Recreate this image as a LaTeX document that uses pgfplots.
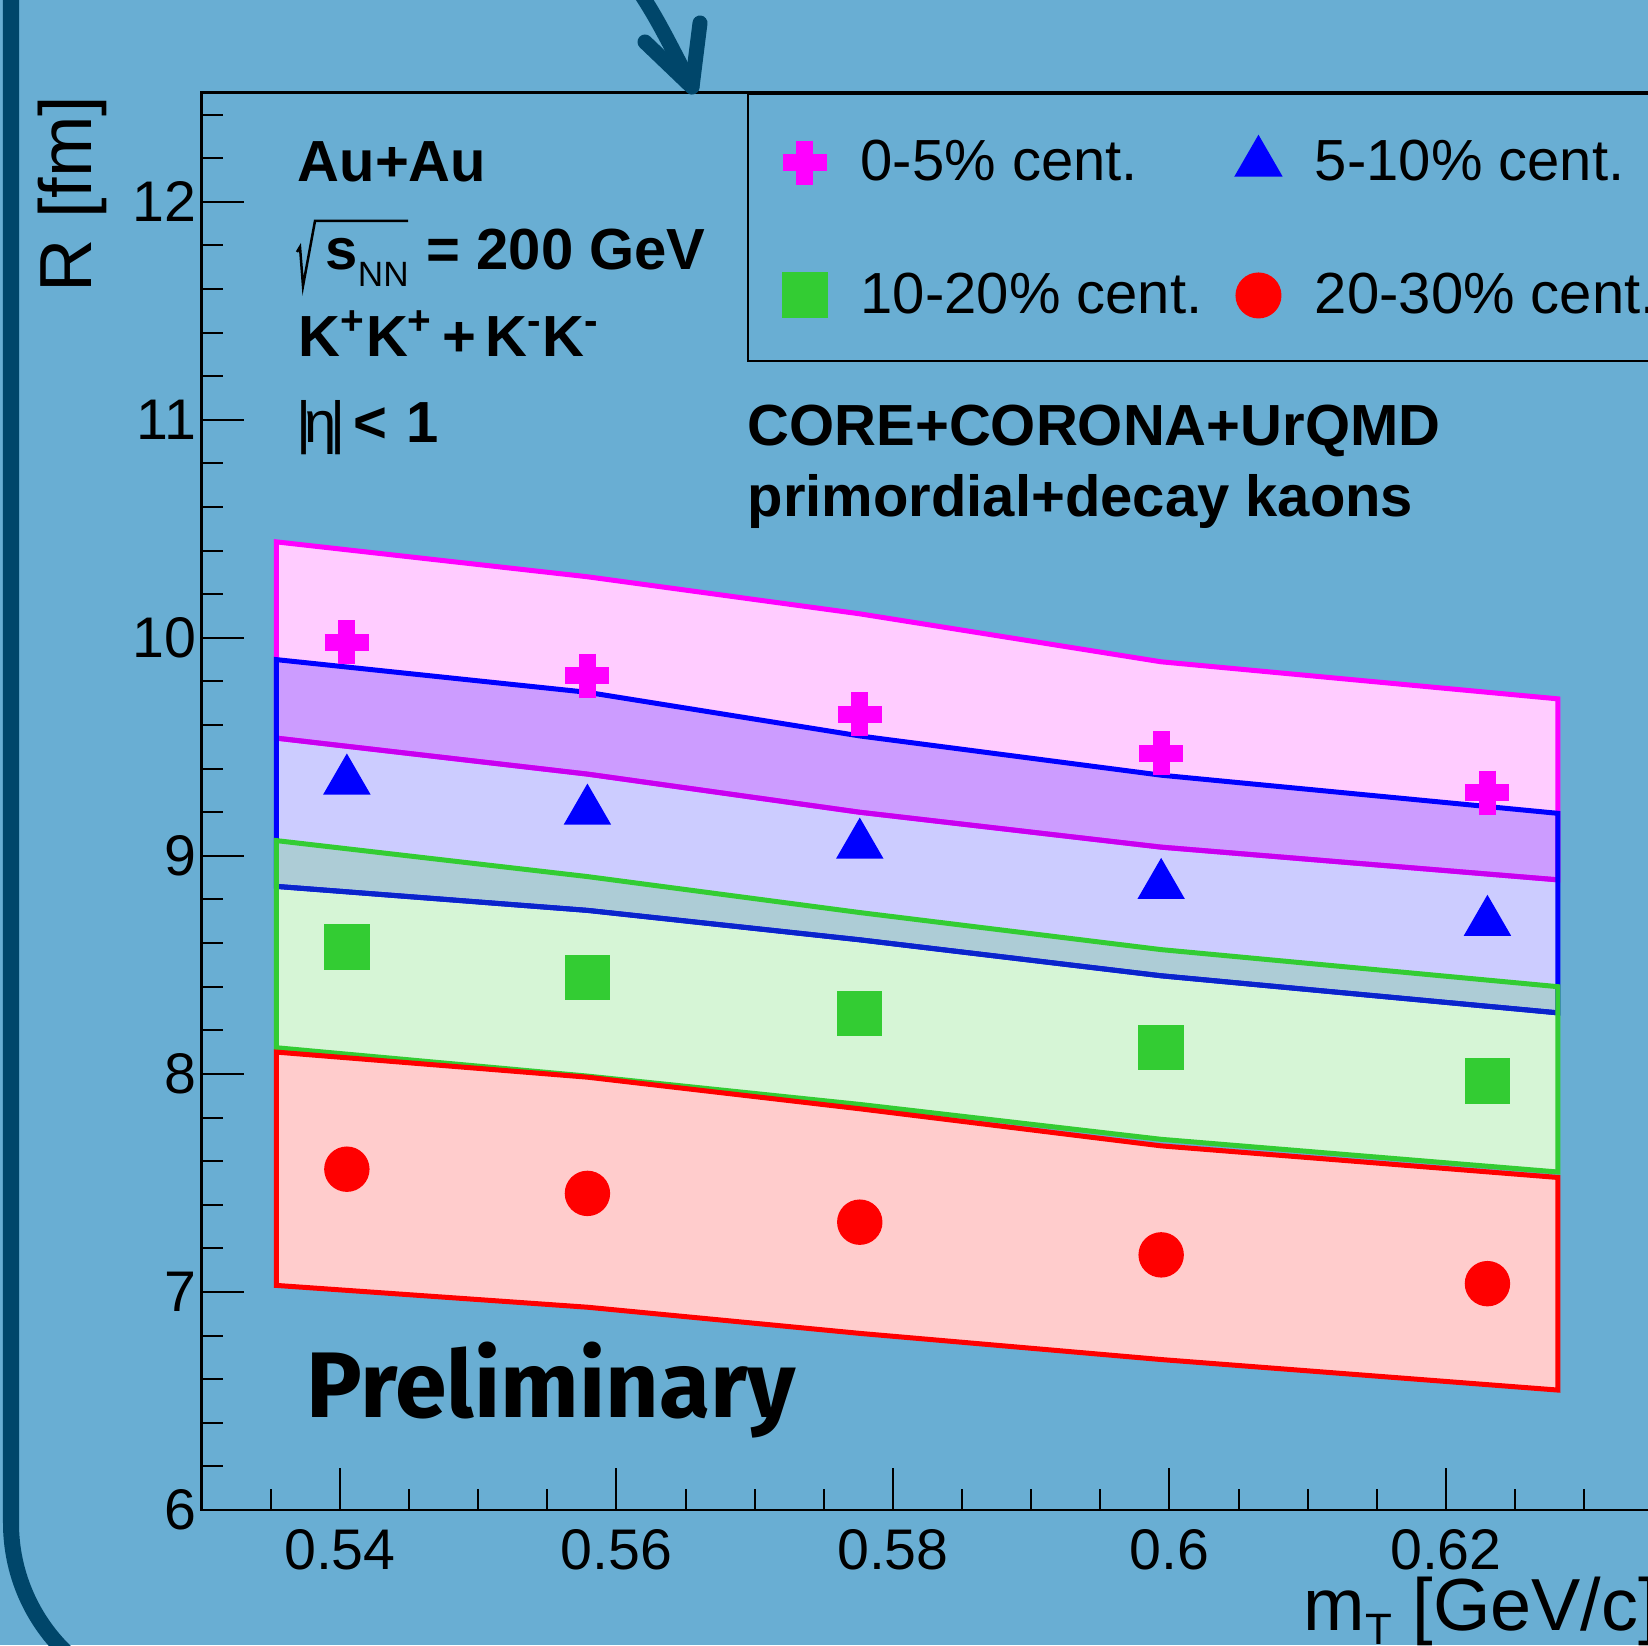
\documentclass[border=0pt]{standalone}
\usepackage{amsmath}
\usepackage{fontspec}
\setmainfont{Liberation Sans}
\newfontfamily\prelimfont{Fira Sans}
\usepackage{pgfplots}
\pgfplotsset{compat=1.18}
\usepackage{pgfplotstable}
\newcommand\fs[1]{\fontsize{#1}{#1}\selectfont}
\definecolor{bg}{HTML}{69AED3}
\definecolor{navy}{HTML}{00466A}
\definecolor{pinkfill}{HTML}{FFCCFF}
\definecolor{purplefill}{HTML}{CC9CFF}
\definecolor{lavfill}{HTML}{CCCCFF}
\definecolor{tealfill}{HTML}{ADCCD6}
\definecolor{greenfill}{HTML}{D6F5D6}
\definecolor{redfill}{HTML}{FFCCCC}
\definecolor{magline}{HTML}{FF00FF}
\definecolor{violetline}{HTML}{C800F0}
\definecolor{blueline}{HTML}{0000FF}
\definecolor{bluedark}{HTML}{0A24CC}
\definecolor{greenline}{HTML}{33CC33}
\definecolor{redline}{HTML}{FF0000}

\pgfplotstableread{
x      pu    pl    bu    bl    gu    gl   ru    rl
0.5354 10.44 9.54  9.90  8.86  9.07  8.12 8.10  7.03
0.5579 10.28 9.375 9.75  8.75  8.905 7.99 7.985 6.93
0.5776 10.11 9.20  9.55  8.615 8.74  7.86 7.84  6.81
0.5994 9.89  9.04  9.37  8.45  8.57  7.70 7.67  6.69
0.6281 9.72  8.89  9.195 8.28  8.40  7.55 7.525 6.55
}\bands

\pgfplotstableread{
x      cross tri   sq    circ
0.5405 9.98  9.344 8.582 7.563
0.5579 9.825 9.206 8.443 7.452
0.5776 9.65  9.05  8.277 7.32
0.5994 9.47  8.865 8.12  7.17
0.6230 9.29  8.696 7.968 7.038
}\markers

\begin{document}
\begin{tikzpicture}
\path[use as bounding box] (0,0) rectangle (16.48,16.45);
\clip (0,0) rectangle (16.48,16.45);
\fill[bg] (0,0) rectangle (16.48,16.45);
\begin{axis}[
  at={(2.017cm,1.35cm)}, anchor=south west,
  scale only axis, width=15.2075cm, height=14.173cm,
  xmin=0.53, xmax=0.64, ymin=6, ymax=12.5,
  axis line style={black, line width=0.025cm},
  tick pos=left, tick align=inside,
  xtick={0.54,0.56,0.58,0.6,0.62},
  xticklabels={0.54,0.56,0.58,0.6,0.62},
  minor xtick={0.535,0.545,0.55,0.555,0.565,0.57,0.575,0.585,0.59,0.595,0.605,0.61,0.615,0.625,0.63,0.635},
  ytick={6,7,8,9,10,11,12},
  yticklabels={6,7,8,9,10,11,12},
  minor ytick={6.2,6.4,6.6,6.8,7.2,7.4,7.6,7.8,8.2,8.4,8.6,8.8,9.2,9.4,9.6,9.8,10.2,10.4,10.6,10.8,11.2,11.4,11.6,11.8,12.2,12.4},
  major tick length=0.42cm, minor tick length=0.21cm,
  tick style={black, line width=0.02cm},
  /pgf/number format/assume math mode=true,
  tick label style={font=\fs{16.3}},
  xticklabel style={inner sep=0pt, yshift=-0.19cm},
  yticklabel style={inner sep=0pt, xshift=-0.05cm},
  legend style={
    at={(0.3584,1)}, anchor=north west,
    draw=black, line width=0.02cm, fill=none,
    font=\fs{16.5},
    inner xsep=0.35cm, inner ysep=0.43cm,
    row sep=0.87cm,
    nodes={inner sep=0pt},
    /tikz/every odd column/.append style={column sep=0.34cm},
    /tikz/every even column/.append style={column sep=0.335cm},
  },
  legend columns=2, legend cell align=left,
  legend image code/.code={\draw[mark repeat=2,mark phase=2,#1,only marks] plot coordinates {(0cm,0cm) (0.3cm,0cm) (0.6cm,0cm)};},
]
% ---- band fills
\addplot[forget plot, draw=none, fill=pinkfill] coordinates {(0.5354,10.44)(0.5579,10.28)(0.5776,10.11)(0.5994,9.89)(0.6281,9.72)(0.6281,8.89)(0.5994,9.04)(0.5776,9.20)(0.5579,9.375)(0.5354,9.54)} -- cycle;
\addplot[forget plot, draw=none, fill=lavfill] coordinates {(0.5354,9.90)(0.5579,9.75)(0.5776,9.55)(0.5994,9.37)(0.6281,9.195)(0.6281,8.28)(0.5994,8.45)(0.5776,8.615)(0.5579,8.75)(0.5354,8.86)} -- cycle;
\addplot[forget plot, draw=none, fill=purplefill] coordinates {(0.5354,9.90)(0.5579,9.75)(0.5776,9.55)(0.5994,9.37)(0.6281,9.195)(0.6281,8.89)(0.5994,9.04)(0.5776,9.20)(0.5579,9.375)(0.5354,9.54)} -- cycle;
\addplot[forget plot, draw=none, fill=greenfill] coordinates {(0.5354,9.07)(0.5579,8.905)(0.5776,8.74)(0.5994,8.57)(0.6281,8.40)(0.6281,7.55)(0.5994,7.70)(0.5776,7.86)(0.5579,7.99)(0.5354,8.12)} -- cycle;
\addplot[forget plot, draw=none, fill=tealfill] coordinates {(0.5354,9.07)(0.5579,8.905)(0.5776,8.74)(0.5994,8.57)(0.6281,8.40)(0.6281,8.28)(0.5994,8.45)(0.5776,8.615)(0.5579,8.75)(0.5354,8.86)} -- cycle;
\addplot[forget plot, draw=none, fill=redfill] coordinates {(0.5354,8.10)(0.5579,7.985)(0.5776,7.84)(0.5994,7.67)(0.6281,7.525)(0.6281,6.55)(0.5994,6.69)(0.5776,6.81)(0.5579,6.93)(0.5354,7.03)} -- cycle;
% ---- band outlines
\addplot[forget plot, draw=magline, line width=0.05cm, fill=none] coordinates {(0.5354,10.44)(0.5579,10.28)(0.5776,10.11)(0.5994,9.89)(0.6281,9.72)(0.6281,8.89)(0.5994,9.04)(0.5776,9.20)(0.5579,9.375)(0.5354,9.54)} -- cycle;
\addplot[forget plot, draw=violetline, line width=0.05cm] table[x=x,y=pl]{\bands};
\addplot[forget plot, draw=blueline, line width=0.05cm, fill=none] coordinates {(0.5354,9.90)(0.5579,9.75)(0.5776,9.55)(0.5994,9.37)(0.6281,9.195)(0.6281,8.28)(0.5994,8.45)(0.5776,8.615)(0.5579,8.75)(0.5354,8.86)} -- cycle;
\addplot[forget plot, draw=bluedark, line width=0.05cm] table[x=x,y=bl]{\bands};
\addplot[forget plot, draw=greenline, line width=0.05cm, fill=none] coordinates {(0.5354,9.07)(0.5579,8.905)(0.5776,8.74)(0.5994,8.57)(0.6281,8.40)(0.6281,7.55)(0.5994,7.70)(0.5776,7.86)(0.5579,7.99)(0.5354,8.12)} -- cycle;
\addplot[forget plot, draw=redline, line width=0.05cm, fill=none] coordinates {(0.5354,8.10)(0.5579,7.985)(0.5776,7.84)(0.5994,7.67)(0.6281,7.525)(0.6281,6.55)(0.5994,6.69)(0.5776,6.81)(0.5579,6.93)(0.5354,7.03)} -- cycle;
% ---- markers
\addplot[only marks, mark=+, color=magline, line width=0.17cm, mark size=0.22cm] table[x=x,y=cross]{\markers};
\addlegendentry{0-5\% cent.}
\addplot[only marks, mark=triangle*, color=blueline, mark size=0.26cm, mark options={draw=none, fill=blueline}] table[x=x,y=tri]{\markers};
\addlegendentry{5-10\% cent.}
\addplot[only marks, mark=square*, color=greenline, mark size=0.22cm, mark options={draw=none, fill=greenline}] table[x=x,y=sq]{\markers};
\addlegendentry{10-20\% cent.}
\addplot[only marks, mark=*, color=redline, mark size=0.22cm, mark options={draw=none, fill=redline}] table[x=x,y=circ]{\markers};
\addlegendentry{20-30\% cent.}
\end{axis}
% ---- annotations
\node[anchor=base west, inner sep=0pt, font=\fs{16.5}\bfseries] at (2.97,14.63) {Au+Au};
\draw[black, line width=0.025cm, line join=miter] (2.97,13.93) -- (3.00,13.98) -- (3.03,13.59) -- (3.15,14.24) -- (4.08,14.24);
\node[anchor=base west, inner sep=0pt, font=\fs{16.5}] at (3.25,13.75) {\textbf{s}\raisebox{-0.17cm}{\fs{10}NN}\hspace{0.18cm}\textbf{= 200 GeV}};
\node[anchor=base west, inner sep=0pt, font=\fs{16.5}\bfseries] at (2.98,12.88) {K\textsuperscript{+}K\textsuperscript{+}\hspace{0.09cm}+\hspace{0.09cm}K\textsuperscript{-}K\textsuperscript{-}};
\node[anchor=base west, inner sep=0pt, font=\fs{16.5}] at (2.96,12.02) {|\kern-0.12emη\kern-0.12em|\hspace{0.08cm}\textbf{<\hspace{0.2cm}1}};
\node[anchor=base west, inner sep=0pt, font=\fs{16.5}\bfseries] at (7.47,11.99) {CORE+CORONA+UrQMD};
\node[anchor=base west, inner sep=0pt, font=\fs{16.5}\bfseries] at (7.47,11.28) {primordial+decay kaons};
\node[anchor=base west, inner sep=0pt, font=\prelimfont\bfseries\fs{26.5}] at (3.06,2.27) {Preliminary};
\node[anchor=base west, inner sep=0pt, font=\fs{21}] at (13.03,0.14) {m\raisebox{-0.14cm}{\fs{12.5}T} [GeV/c]};
\node[anchor=base east, inner sep=0pt, rotate=90, font=\fs{21}] at (0.917,15.50) {R [fm]};
% ---- frame decoration and arrow
\draw[navy, line width=0.16cm] (0.11,17) -- (0.11,1.22) arc[start angle=180, end angle=270, radius=1.8] -- ++(5,0);
\draw[navy, line width=0.15cm, line cap=round, line join=round] (6.22,16.8) .. controls (6.55,16.3) .. (6.92,15.58);
\draw[navy, line width=0.15cm, line cap=round, line join=round] (6.45,16.03) -- (6.92,15.58) -- (7.00,16.22);
\end{tikzpicture}
\end{document}
